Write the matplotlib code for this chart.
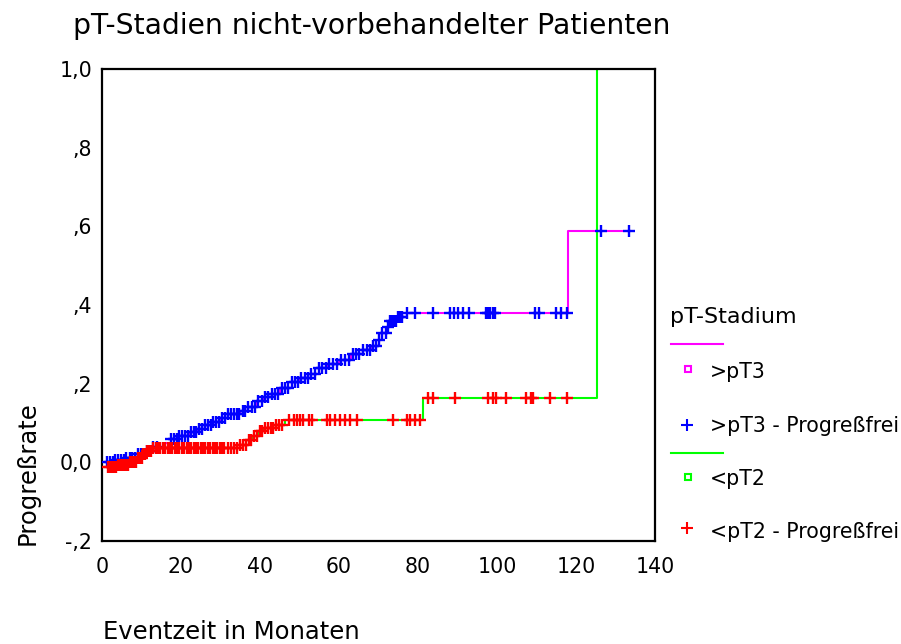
import numpy as np
import matplotlib
matplotlib.use('Agg')
import matplotlib.pyplot as plt
from matplotlib.lines import Line2D

# Stufenfunktion >pT3 (Zeitpunkt, Progreßrate)
pt3_t = [1, 3, 6, 9, 11, 13, 16, 17.5, 19, 22, 24, 26, 28, 30, 32, 35, 37, 39, 41, 43,
         45, 48, 50, 53, 55, 57, 60, 63, 66, 68, 70, 71, 72, 73, 75, 76, 118, 133.7]
pt3_y = [0.0, 0.005, 0.012, 0.02, 0.03, 0.04, 0.05, 0.06, 0.068, 0.078, 0.086, 0.095,
         0.103, 0.112, 0.122, 0.13, 0.14, 0.155, 0.165, 0.175, 0.19, 0.205, 0.215, 0.225,
         0.24, 0.25, 0.26, 0.275, 0.285, 0.295, 0.31, 0.33, 0.345, 0.36, 0.37, 0.38,
         0.589, 0.589]
# zensierte Fälle >pT3
pt3_cens = [1.2, 2, 2.7, 3.4, 4.1, 4.8, 5.5, 6.2, 7, 7.7, 8.4, 9.1, 9.8, 10.5, 11.3, 12,
            13, 14, 17.5, 18.2, 18.9, 19.6, 20.3, 21, 21.8, 22.5, 23.2, 23.9, 24.6, 25.3,
            26, 26.8, 27.5, 28.2, 28.9, 29.6, 30.4, 31.2, 32, 32.7, 33.4, 34.1, 34.8,
            35.6, 36.3, 37, 38, 38.8, 39.6, 40.4, 41.2, 42, 43, 43.8, 44.6, 45.5, 46.3,
            47.1, 48, 48.8, 49.6, 50.5, 51.3, 52.1, 53, 54, 55, 55.8, 56.6, 57.5, 58.5,
            59.5, 60.5, 61.5, 62.5, 63.5, 64.3, 65.1, 66, 67, 67.8, 68.6, 69.4, 70.2, 71,
            71.8, 72.4, 73, 73.5, 74, 74.5, 75, 75.5,
            75.9, 77.1, 79.2, 83.7, 88.0, 89.1, 90.1, 91.4, 92.9, 97.1, 97.7, 98.3, 99.0,
            99.4, 109.5, 110.6, 115.0, 116.2, 117.6, 126.4, 133.5]

# Stufenfunktion <pT2
pt2_t = [1.5, 4, 7, 9, 10.5, 11.5, 13, 35, 36.5, 38, 39.5, 41, 44, 46.4, 81.2, 125.4]
pt2_y = [-0.012, -0.008, 0.0, 0.01, 0.02, 0.03, 0.036, 0.045, 0.058, 0.068, 0.08, 0.087,
         0.095, 0.107, 0.163, 1.0]
# zensierte Fälle <pT2
pt2_cens = [1.5, 2, 2.5, 3, 3.5, 4, 4.5, 5, 5.5, 6, 6.5, 7, 7.5, 8, 8.5, 9, 9.5, 10,
            10.5, 11, 11.5, 12, 12.5, 13, 13.6, 14.2, 14.8, 15.4, 16, 16.6, 17.2, 17.8,
            18.4, 19, 19.6, 20.2, 20.8, 21.4, 22, 22.6, 23.2, 23.8, 24.4, 25, 25.6, 26.2,
            26.8, 27.4, 28, 28.6, 29.2, 29.8, 30.4, 31, 31.8, 32.6, 33.4, 34.2, 35, 35.7,
            36.4, 37.1, 37.8, 38.5, 39.2, 39.9, 40.6, 41.3, 42, 42.7, 43.4, 44.1, 44.8,
            45.5, 47.3, 48.5, 49.4, 50.2, 51.0, 52.3, 53.1, 56.9, 57.8, 59.0, 60.3, 61.6,
            62.8, 64.5, 73.7, 77.1, 77.9, 79.2, 80.5, 82.6, 83.8, 89.3, 97.7, 99.0, 99.8,
            102.2, 107.4, 108.6, 109.2, 113.4, 117.6]

x_ticks = [0, 20, 40, 60, 80, 100, 120, 140]
y_ticks = [-0.2, 0.0, 0.2, 0.4, 0.6, 0.8, 1.0]
y_ticklabels = ['-,2', '0,0', ',2', ',4', ',6', ',8', '1,0']


def step_value(ts, ys, t):
    idx = np.searchsorted(ts, t, side='right') - 1
    return np.asarray(ys)[np.clip(idx, 0, len(ys) - 1)]


W, H = 901, 644
fig = plt.figure(figsize=(W / 100, H / 100), dpi=100)
ax = fig.add_axes([102 / W, 1 - 541 / H, (655 - 102) / W, (541 - 69) / H])

ax.step(pt3_t, pt3_y, where='post', color='#ff00ff', lw=1.5, zorder=2)
ax.step(pt2_t, pt2_y, where='post', color='#00ff00', lw=1.5, zorder=2)
ax.plot(pt3_cens, step_value(pt3_t, pt3_y, pt3_cens), ls='none', marker='+',
        ms=8.5, mew=1.7, color='#0000ff', zorder=3)
ax.plot(pt2_cens, step_value(pt2_t, pt2_y, pt2_cens), ls='none', marker='+',
        ms=8.5, mew=1.7, color='#ff0000', zorder=3)

ax.set_xlim(0, 140)
ax.set_ylim(-0.2, 1.0)
ax.set_xticks(x_ticks)
ax.set_yticks(y_ticks)
ax.set_yticklabels(y_ticklabels)
ax.tick_params(axis='both', length=0, labelsize=14.8)
ax.tick_params(axis='x', pad=11.5)
ax.tick_params(axis='y', pad=7)
for s in ax.spines.values():
    s.set_linewidth(1.6)
    s.set_color('black')

# Titel und Achsenbeschriftungen
fig.text(73 / W, 1 - 34 / H, 'pT-Stadien nicht-vorbehandelter Patienten',
         fontsize=20.3, ha='left', va='baseline')
fig.text(103 / W, 1 - 639 / H, 'Eventzeit in Monaten', fontsize=17.5,
         ha='left', va='baseline')
fig.text(35 / W, 1 - 545 / H, 'Progreßrate', fontsize=17.5, rotation=90,
         rotation_mode='anchor', ha='left', va='baseline')

# Legende
fig.text(670 / W, 1 - 323 / H, 'pT-Stadium', fontsize=16, ha='left', va='baseline')
entries = [
    (344, 369, 378, '#ff00ff', '>pT3', 425, 432, '#0000ff', '>pT3 - Progreßfrei'),
    (453, 477, 485, '#00ff00', '<pT2', 528, 538, '#ff0000', '<pT2 - Progreßfrei'),
]
for ly, sy, sty, c1, t1, py, pty, c2, t2 in entries:
    fig.add_artist(Line2D([671 / W, 723 / W], [1 - ly / H, 1 - ly / H], color=c1, lw=1.5))
    fig.add_artist(Line2D([688 / W], [1 - sy / H], marker='s', ms=5, mfc='none',
                          mec=c1, mew=1.5, ls='none'))
    fig.text(710 / W, 1 - sty / H, t1, fontsize=14.8, ha='left', va='baseline')
    fig.add_artist(Line2D([687 / W], [1 - py / H], marker='+', ms=8, mew=1.5,
                          color=c2, ls='none'))
    fig.text(710 / W, 1 - pty / H, t2, fontsize=14.8, ha='left', va='baseline')

fig.savefig('out.png', dpi=100)
